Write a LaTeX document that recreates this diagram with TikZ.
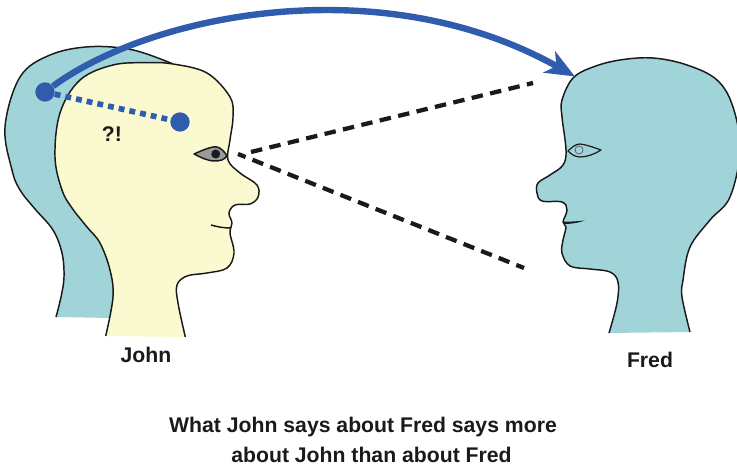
\documentclass[tikz,border=0pt]{standalone}
\usepackage{fontspec}
\setmainfont{Liberation Sans}
\usetikzlibrary{arrows.meta,calc}
\definecolor{headteal}{HTML}{A0D4D9}
\definecolor{headcream}{HTML}{FBF9CF}
\definecolor{linkblue}{HTML}{2F5CAC}
\definecolor{inkline}{HTML}{1A1A1A}
\definecolor{eyegrey}{HTML}{9A9A9A}
\tikzset{
  outline/.style={draw=inkline,line width=1.1pt,line join=round},
  spot/.style={circle,fill=linkblue,inner sep=0pt,minimum size=14.5pt},
  caption/.style={font=\bfseries\fontsize{15.9}{18}\selectfont,text=inkline,inner sep=0pt},
  sightline/.style={draw=inkline,line width=3.2pt,dash pattern=on 8.6pt off 5.6pt},
}
\def\backhead{(173,64) (133,50) (90,46.7) (50,55) (20,77) (5,127) (12,170) (20,190) (35,209) (53,230) (62,253) (64,277) (61,297) (56,317)}
\def\johnhead{(105.7,336) (113,297) (110,270) (100,243) (87,227) (72,208) (62,190) (55,157) (60,113) (80,80) (113,65) (147,62.7) (173,64) (207,73) (230,97) (233,117) (230,140) (228,160) (240,173) (257,185) (258,197) (250,204) (235,205) (229,213) (232,223) (230,233) (234,253) (227,268) (207,273) (187,276) (177,285) (178,303) (185.3,337)}
\def\fredhead{(609,333) (617,303) (618,282) (610,272) (590,269) (570,266) (562,253) (563,240) (566,227) (563,222) (567,210) (562,202) (542,201) (537,193) (538,183) (550,175) (563,165) (566,150) (562,117) (562,100) (573,78) (593,67) (620,60) (653,58) (687,65) (717,80) (733,107) (740,150) (730,197) (710,220) (690,247) (683,280) (682,297) (690,332)}
\begin{document}
\begin{tikzpicture}[x=0.75pt,y=-0.75pt]
\useasboundingbox (0,0) rectangle (737,466);

% Head behind John
\fill[headteal] plot[smooth,tension=.6] coordinates {\backhead} -- (112,318) -- (130,200) -- cycle;
\draw[outline] plot[smooth,tension=.6] coordinates {\backhead};

% John
\fill[headcream] plot[smooth,tension=.6] coordinates {\johnhead} -- cycle;
\draw[outline] plot[smooth,tension=.6] coordinates {\johnhead};
\draw[outline] (211,225) .. controls (218,227) and (224,228) .. (231,228);
\draw[outline,fill=eyegrey] (194,154) .. controls (203,150) and (212,146) .. (217,147) .. controls (221,148) and (225,152) .. (227,156) .. controls (224,160) and (220,161) .. (215,161) .. controls (207,161) and (200,157) .. (194,154) -- cycle;
\fill[inkline] (215.7,154) circle (4.5);

% Fred
\fill[headteal] plot[smooth,tension=.6] coordinates {\fredhead} -- cycle;
\draw[outline] plot[smooth,tension=.6] coordinates {\fredhead};
\fill[inkline] (564,221.5) .. controls (571,222) and (578,221) .. (585,220.5) .. controls (578,223) and (571,224) .. (564,224) -- cycle;
\draw[outline,line width=.9pt] (568,151) .. controls (572,147) and (576,144) .. (580,144) .. controls (588,145) and (595,148) .. (601,150) .. controls (595,154) and (587,157) .. (580,157) .. controls (575,157) and (571,154) .. (568,151) -- cycle;
\draw[draw=inkline!70,line width=.6pt] (579,150) circle (4);

% Lines of sight
\coordinate (sightapex) at (238,154);
\coordinate (sightstart) at (251,152);
\coordinate (sightupper) at (533,83);
\coordinate (sightlower) at (524,268);
\draw[sightline] (sightstart) -- (sightupper);
\draw[sightline,dash phase=2.5pt] (sightapex) -- (sightlower);

% Blue link between the two spots and over to Fred
\node[spot] (outerspot) at (45,92) {};
\node[spot] (innerspot) at (180,122) {};
\coordinate (fredtop) at (575,76.5);
\draw[linkblue,line width=4.2pt,dash pattern=on 4.4pt off 3.8pt] (outerspot) -- (innerspot);
\draw[linkblue,line width=4.8pt,-{Stealth[length=22pt,width=18pt,inset=6pt]}] (outerspot) .. controls (150,15) and (380,-33) .. (fredtop);

% Labels
\node[caption] (puzzled) at (112,134) {?!};
\node[caption] (johnname) at (146,355) {John};
\node[caption] (fredname) at (650,360) {Fred};
\node[caption] (saying1) at (363,427) {What John says about Fred says more};
\node[caption] (saying2) at (371.5,455) {about John than about Fred};
\end{tikzpicture}
\end{document}
